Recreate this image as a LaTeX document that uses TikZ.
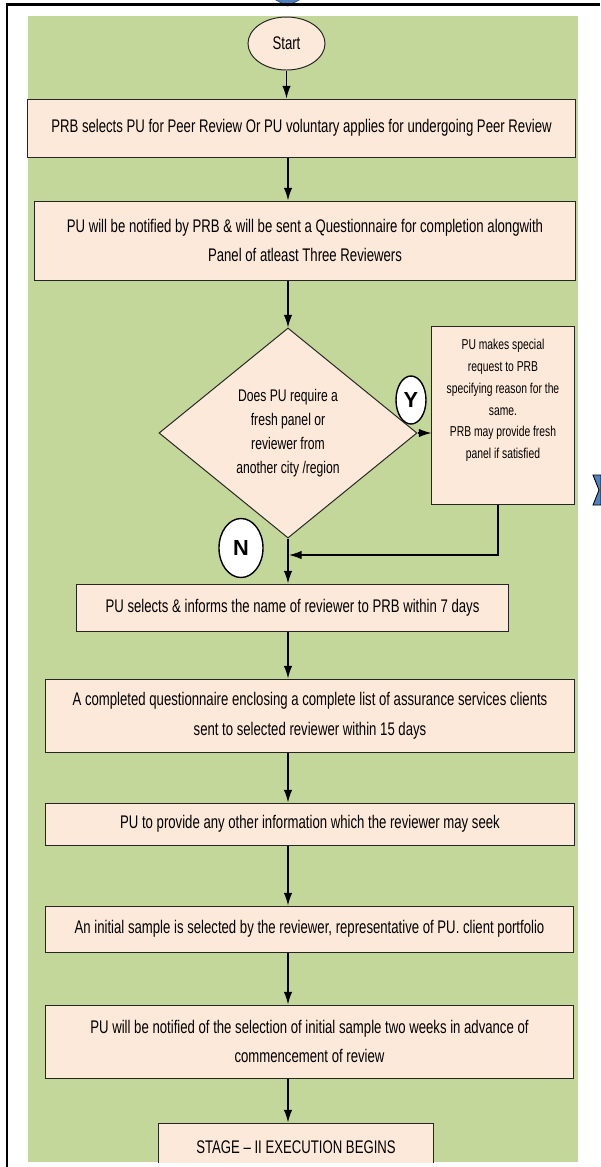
\documentclass[tikz,border=0pt]{standalone}
\usepackage{fontspec}
\setmainfont{Liberation Sans}[FakeStretch=0.72]
\newfontfamily\markfont{Liberation Sans}
\usepackage[svgnames]{xcolor}
\usetikzlibrary{shapes.geometric}
\usetikzlibrary{arrows.meta}

\definecolor{panelgreen}{HTML}{C4D79B}
\definecolor{boxpeach}{HTML}{FDE9D9}
\definecolor{tipblue}{HTML}{4F81BD}

\begin{document}
\begin{tikzpicture}[
            x=0.025cm, y=-0.025cm,
            proc/.style={draw=black!85, line width=.7pt, fill=boxpeach, inner sep=0pt, align=center,
                font=\fontsize{13}{20}\selectfont},
            flow/.style={line width=.9pt, -{Latex[length=9pt, width=6pt]}},
            tag/.style={ellipse, draw=black, line width=1pt, fill=white, inner sep=0pt,
                font=\markfont\bfseries\fontsize{15.5}{15.5}\selectfont},
        ]
            \useasboundingbox (0,0) rectangle (600,1167);
            \fill[white] (0,0) rectangle (600,1167);

            % bits of the neighbouring shapes and the page frame
            \filldraw[fill=tipblue, draw=tipblue!60!black, line width=.5pt] (272,-2) -- (303,-2) -- (287.5,6) -- cycle;
            \filldraw[fill=tipblue, draw=black, line width=.6pt] (593,475) -- (601,475) -- (601,505) -- (593,505) -- (599,490) -- cycle;
            \draw[line width=1.5pt] (7,1167) -- (7,4.5) -- (600,4.5);

            \fill[panelgreen] (28,16) rectangle (578,1162);

            \begin{scope}
            \clip (0,0) rectangle (600,1162);
            % main column of steps
            \node[ellipse, proc, minimum width=1.925cm, minimum height=1.325cm] (start) at (286.5,43.5) {Start};
            \node[proc, minimum width=13.675cm, minimum height=1.45cm] (select) at (301.5,128)
                {PRB selects PU for Peer Review Or PU voluntary applies for undergoing Peer Review};
            \node[proc, minimum width=13.5cm, minimum height=1.975cm] (notify) at (305,240.5)
                {PU will be notified by PRB \& will be sent a Questionnaire for completion alongwith\\Panel of atleast Three Reviewers};
            \node[diamond, proc, aspect=1.23, minimum width=6.45cm, minimum height=5.25cm,
                font=\fontsize{12}{17}\selectfont] (fresh) at (288,433)
                {Does PU require a\\fresh panel or\\reviewer from\\another city /region};
            \node[proc, minimum width=3.55cm, minimum height=4.425cm, font=\fontsize{10.2}{15.5}\selectfont] (special) at (503,415.5)
                {PU makes special\\request to PRB\\specifying reason for the\\same.\\PRB may provide fresh\\panel if satisfied\\[8pt]};
            \node[proc, minimum width=10.775cm, minimum height=1.175cm] (name) at (292.5,607.5)
                {PU selects \& informs the name of reviewer to PRB within 7 days};
            \node[proc, minimum width=13.2cm, minimum height=1.825cm, font=\fontsize{13}{21}\selectfont] (quest) at (310,715.5)
                {A completed questionnaire enclosing a complete list of assurance services clients\\sent to selected reviewer within 15 days};
            \node[proc, minimum width=13.2cm, minimum height=1.05cm] (info) at (310,824)
                {PU to provide any other information which the reviewer may seek};
            \node[proc, minimum width=13.175cm, minimum height=1.15cm] (sample) at (309.5,929)
                {An initial sample is selected by the reviewer, representative of PU. client portfolio};
            \node[proc, minimum width=13.175cm, minimum height=1.825cm, font=\fontsize{13}{21}\selectfont] (advance) at (309.5,1041.5)
                {PU will be notified of the selection of initial sample two weeks in advance of\\commencement of review};
            \node[proc, minimum width=6.85cm, minimum height=1.2cm] (stage) at (296,1147) {STAGE -- II EXECUTION BEGINS};

            % the yes / no marks
            \node[tag, minimum width=.75cm, minimum height=1.2cm] (yes) at (411,400) {Y};
            \node[tag, minimum width=1.1cm, minimum height=1.475cm] (no) at (241,548) {N};

            % straight arrows down the middle
            \draw[flow] (start) -- (start |- select.north);
            \foreach \a/\b in {select/notify, name/quest, quest/info, info/sample, sample/advance, advance/stage}{
                \draw[flow] (\a.south -| fresh) -- (\b.north -| fresh);
            }
            \draw[flow] (notify.south -| fresh) -- (fresh.north);
            \draw[flow] (fresh.south) -- (name.north -| fresh);

            % the yes branch and its return
            \coordinate (join) at (289,555);
            \draw[flow] (fresh.east) -- (fresh.east -| special.west);
            \draw[flow] ([xshift=-.125cm]special.south) |- (join);
            \end{scope}
        \end{tikzpicture}
\end{document}
